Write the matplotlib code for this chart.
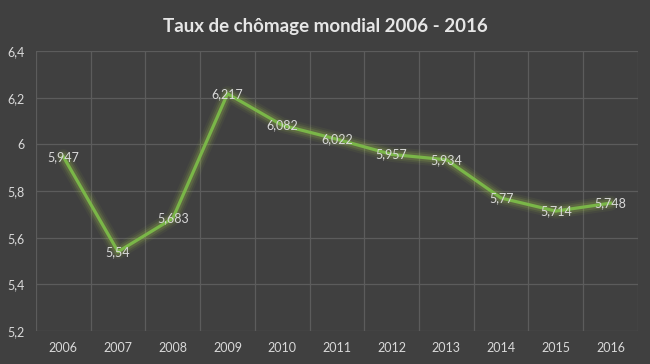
import matplotlib
matplotlib.use("Agg")
import matplotlib.pyplot as plt

years = ["2006", "2007", "2008", "2009", "2010", "2011", "2012", "2013", "2014", "2015", "2016"]
taux = [5.947, 5.54, 5.683, 6.217, 6.082, 6.022, 5.957, 5.934, 5.77, 5.714, 5.748]
yticks = [5.2, 5.4, 5.6, 5.8, 6.0, 6.2, 6.4]

bg = "#404040"
plt.rcParams['font.family'] = ['Lato', 'DejaVu Sans']

fig = plt.figure(figsize=(6.5, 3.64), dpi=100, facecolor=bg)
ax = fig.add_axes([0.0554, 0.0907, 0.926, 0.769])
ax.set_facecolor(bg)

x = list(range(len(years)))

# glow under the line
for lw, a in [(11, 0.06), (8, 0.10), (5.5, 0.16)]:
    ax.plot(x, taux, color="#a8cc4a", lw=lw, alpha=a, solid_joinstyle="round",
            solid_capstyle="round", zorder=2)
ax.plot(x, taux, color="#7ab648", lw=2.3, solid_joinstyle="round", zorder=3)

for xi, v in zip(x, taux):
    lab = ("%g" % v).replace(".", ",")
    ax.text(xi, v, lab, ha="center", va="center", color="#d9d9d9",
            fontsize=9, zorder=4)

ax.set_xlim(-0.5, len(years) - 0.5)
ax.set_ylim(5.2, 6.4)
ax.set_yticks(yticks)
ax.set_yticklabels([("%g" % t).replace(".", ",") for t in yticks])
ax.set_xticks(x)
ax.set_xticklabels(years)
ax.set_xticks([i - 0.5 for i in range(len(years) + 1)], minor=True)
ax.tick_params(axis="both", which="both", length=0, colors="#d9d9d9", labelsize=9)
ax.tick_params(axis="y", pad=8)
ax.tick_params(axis="x", pad=8)

ax.grid(True, axis="y", which="major", color="#5c5c5c", lw=0.9)
ax.grid(True, axis="x", which="minor", color="#5c5c5c", lw=0.9)
for s in ax.spines.values():
    s.set_visible(False)

fig.suptitle("Taux de chômage mondial 2006 - 2016", y=0.95, color="#e6e6e6",
             fontsize=13.5, fontweight="bold")

fig.savefig("out.png", dpi=100, facecolor=bg)
